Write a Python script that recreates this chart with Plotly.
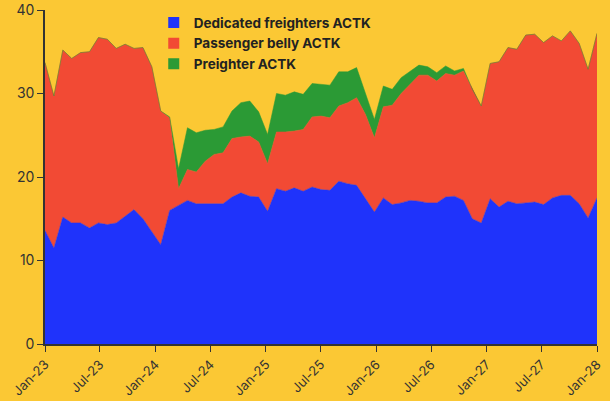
import pandas as pd
import plotly.graph_objects as go

# 63 evenly spaced observations from Jan-23 to Jan-28
dates = pd.date_range("2023-01-01", "2028-01-01", periods=63)

dedicated = [13.6, 11.5, 15.2, 14.5, 14.5, 13.9, 14.5, 14.3, 14.5, 15.3,
             16.1, 15.0, 13.5, 11.9, 16.0, 16.6, 17.2, 16.8, 16.8, 16.8,
             16.8, 17.6, 18.1, 17.7, 17.6, 15.9, 18.6, 18.3, 18.7, 18.3,
             18.8, 18.5, 18.4, 19.5, 19.2, 19.0, 17.4, 15.8, 17.5, 16.7,
             16.9, 17.2, 17.1, 16.9, 16.9, 17.6, 17.7, 17.2, 15.0, 14.5,
             17.4, 16.4, 17.1, 16.8, 16.9, 17.0, 16.7, 17.5, 17.8, 17.8,
             16.8, 15.1, 17.5]

belly = [20.1, 18.2, 20.0, 19.7, 20.4, 21.1, 22.2, 22.2, 20.9, 20.6,
         19.3, 20.5, 19.7, 16.0, 11.1, 2.0, 3.7, 3.8, 5.1, 5.9,
         6.1, 7.0, 6.7, 7.2, 6.6, 5.7, 6.8, 7.1, 6.8, 7.4,
         8.4, 8.8, 8.7, 9.0, 9.7, 10.5, 10.1, 8.9, 10.9, 11.9,
         13.1, 13.9, 15.1, 15.3, 14.6, 14.8, 14.5, 15.5, 15.5, 14.0,
         16.2, 17.4, 18.4, 18.5, 20.1, 20.1, 19.4, 19.4, 18.5, 19.7,
         19.2, 17.8, 19.7]

preighter = [0, 0, 0, 0, 0, 0, 0, 0, 0, 0,
             0, 0, 0, 0, 0.1, 2.4, 5.0, 4.7, 3.7, 3.0,
             3.1, 3.3, 4.1, 4.2, 3.6, 3.5, 4.6, 4.4, 4.7, 4.2,
             4.0, 3.8, 3.9, 4.1, 3.7, 3.6, 2.5, 2.2, 2.5, 1.9,
             1.9, 1.6, 1.2, 1.0, 1.0, 0.9, 0.5, 0.3, 0, 0,
             0, 0, 0, 0, 0, 0, 0, 0, 0, 0,
             0, 0, 0]

series_names = ["Dedicated freighters ACTK", "Passenger belly ACTK", "Preighter ACTK"]
colors = ["#1f33fb", "#f24a34", "#2b9a35"]
bg = "#fbc834"

fig = go.Figure()
for name, vals, col in zip(series_names, [dedicated, belly, preighter], colors):
    fig.add_trace(go.Scatter(
        x=dates, y=vals, name=name, stackgroup="one",
        mode="lines", line=dict(width=0.5, color=col),
        fillcolor=col, showlegend=False,
    ))
# legend entries drawn as square swatches (no data plotted)
for name, col in zip(series_names, colors):
    fig.add_trace(go.Scatter(
        x=[None], y=[None], name=name, mode="markers",
        marker=dict(symbol="square", size=11, color=col),
        showlegend=True,
    ))

fig.update_layout(
    width=610, height=401,
    paper_bgcolor=bg, plot_bgcolor=bg,
    margin=dict(l=45, r=13, t=10, b=57, autoexpand=False),
    font=dict(family="Inter, Roboto, sans-serif", size=13, color="#333333"),
    showlegend=True,
    legend=dict(
        x=0.197, y=1.008, xanchor="left", yanchor="top",
        bgcolor="rgba(0,0,0,0)", traceorder="normal",
        font=dict(family="Inter, sans-serif", size=13.5, color="#222222", weight="bold"),
        itemwidth=30, tracegroupgap=0,
    ),
)
fig.update_xaxes(
    type="date", range=[dates[0], dates[-1]],
    tick0="2023-01-01", dtick="M6", tickformat="%b-%y",
    tickangle=-45, showgrid=False, zeroline=False, automargin=False,
    showline=True, linecolor="#333333", linewidth=1.5,
    ticks="outside", ticklen=6, tickcolor="#333333",
    tickfont=dict(size=13, color="#333333"),
)
fig.update_yaxes(
    range=[0, 40], dtick=10, showgrid=False, zeroline=False, automargin=False,
    showline=True, linecolor="#333333", linewidth=1.5,
    ticks="outside", ticklen=6, tickcolor="#333333",
    tickfont=dict(size=14, color="#333333"),
)

fig.write_html(
    "out.html",
    config={"displayModeBar": False},
    post_script="document.body.style.margin='0';document.body.style.overflow='hidden';",
)
